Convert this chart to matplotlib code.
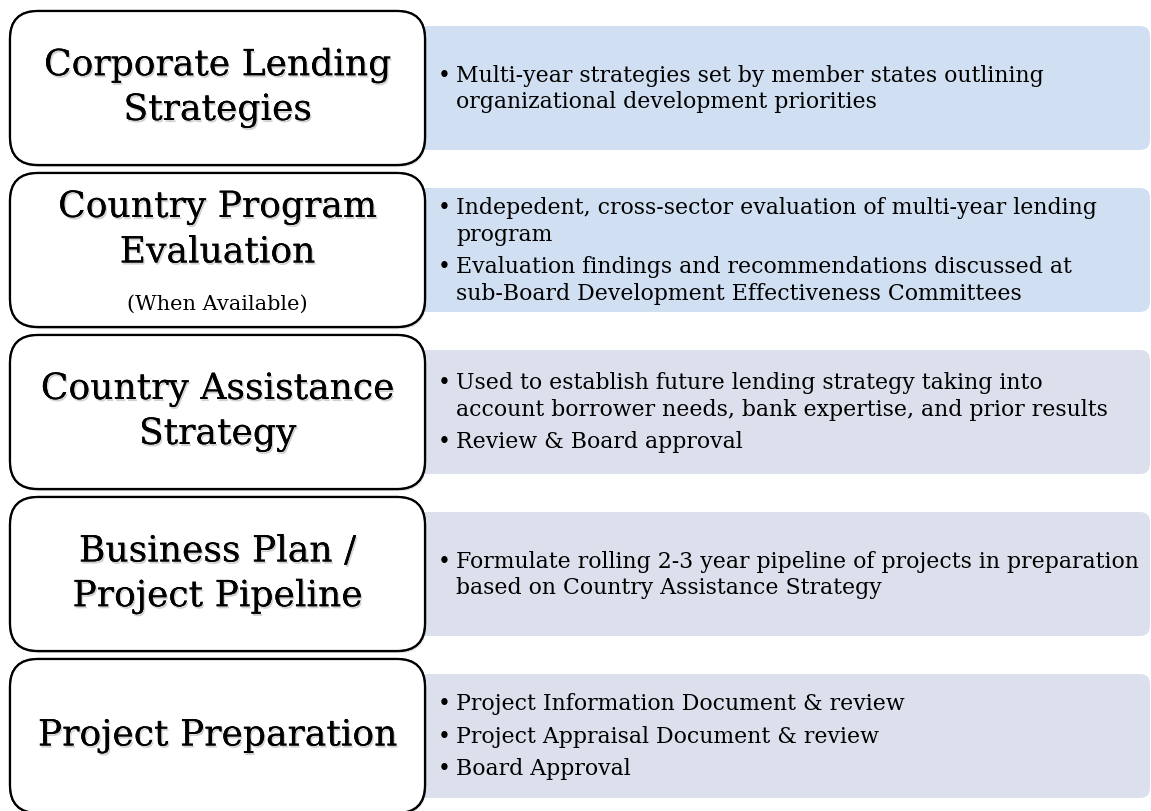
import matplotlib.pyplot as plt
from matplotlib.patches import FancyBboxPatch
import matplotlib.patheffects as pe

W, H = 1151, 812

titles = [
    ["Corporate Lending", "Strategies"],
    ["Country Program", "Evaluation"],
    ["Country Assistance", "Strategy"],
    ["Business Plan /", "Project Pipeline"],
    ["Project Preparation"],
]
subtitles = ["", "(When Available)", "", "", ""]

bullets = [
    [["Multi-year strategies set by member states outlining",
      "organizational development priorities"]],
    [["Indepedent, cross-sector evaluation of multi-year lending",
      "program"],
     ["Evaluation findings and recommendations discussed at",
      "sub-Board Development Effectiveness Committees"]],
    [["Used to establish future lending strategy taking into",
      "account borrower needs, bank expertise, and prior results"],
     ["Review & Board approval"]],
    [["Formulate rolling 2-3 year pipeline of projects in preparation",
      "based on Country Assistance Strategy"]],
    [["Project Information Document & review"],
     ["Project Appraisal Document & review"],
     ["Board Approval"]],
]
panel_colors = ["#d0e0f2", "#d0e0f2", "#dbe0ec", "#dbe0ec", "#dbe0ec"]

font = "DejaVu Serif"

fig = plt.figure(figsize=(W / 100, H / 100), dpi=100)
ax = fig.add_axes([0, 0, 1, 1])
ax.set_xlim(0, W)
ax.set_ylim(H, 0)
ax.axis("off")

top0 = 12
pitch = 162
box_h = 154
lx0, lx1 = 10, 425
rx0, rx1 = 400, 1150
inset = 15
line_h = 26.5
para_gap = 6

# soft shadow behind the big labels
shadow = [pe.withSimplePatchShadow(offset=(1, -1.5), shadow_rgbFace="k", alpha=0.18), pe.Normal()]

for i in range(len(titles)):
    top = top0 + i * pitch
    # right panel
    ax.add_patch(FancyBboxPatch((rx0, top + inset), rx1 - rx0, box_h - 2 * inset,
                                boxstyle="round,pad=0,rounding_size=10",
                                fc=panel_colors[i], ec="none", zorder=1))
    # left box
    ax.add_patch(FancyBboxPatch((lx0, top), lx1 - lx0, box_h,
                                boxstyle="round,pad=0,rounding_size=28",
                                fc="white", ec="black", lw=1.6, zorder=2,
                                path_effects=[pe.withSimplePatchShadow(offset=(1, -1.5), alpha=0.2), pe.Normal()]))

    cx = (lx0 + lx1) / 2
    lines = titles[i]
    if subtitles[i]:
        cy = top + 57
    else:
        cy = top + box_h / 2
    n = len(lines)
    for k, t in enumerate(lines):
        y = cy + (k - (n - 1) / 2) * 45
        ax.text(cx, y, t, ha="center", va="center", fontsize=26, family=font,
                zorder=3, path_effects=shadow)
    if subtitles[i]:
        ax.text(cx, top + 130, subtitles[i], ha="center", va="center",
                fontsize=15, family=font, zorder=3)

    # bullet text
    items = bullets[i]
    nlines = sum(len(b) for b in items)
    total = nlines * line_h + (len(items) - 1) * para_gap
    y = top + box_h / 2 - total / 2 + line_h / 2
    for b in items:
        for k, t in enumerate(b):
            if k == 0:
                ax.text(438, y, "\u2022", ha="left", va="center", fontsize=15.8,
                        family=font, zorder=3)
            ax.text(456, y, t, ha="left", va="center", fontsize=15.8,
                    family=font, zorder=3)
            y += line_h
        y += para_gap

fig.savefig("out.png", dpi=100)
